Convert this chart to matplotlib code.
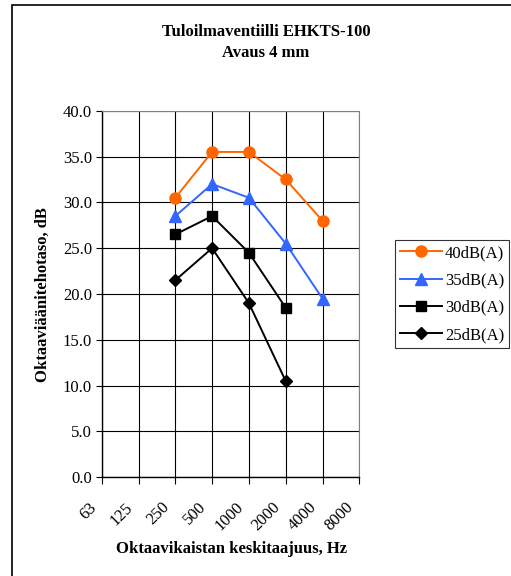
import numpy as np
import matplotlib
matplotlib.use("Agg")
import matplotlib.pyplot as plt
from matplotlib.transforms import ScaledTranslation
from matplotlib.patches import Rectangle

plt.rcParams['font.family'] = ['Liberation Serif', 'DejaVu Serif']
plt.rcParams['font.size'] = 12

freqs = ["63", "125", "250", "500", "1000", "2000", "4000", "8000"]
nan = np.nan
db40 = [nan, nan, 30.5, 35.5, 35.5, 32.5, 28.0, nan]
db35 = [nan, nan, 28.5, 32.0, 30.5, 25.5, 19.5, nan]
db30 = [nan, nan, 26.5, 28.5, 24.5, 18.5, nan, nan]
db25 = [nan, nan, 21.5, 25.0, 19.0, 10.5, nan, nan]
series_names = ["40dB(A)", "35dB(A)", "30dB(A)", "25dB(A)"]

W, H = 511, 576
fig = plt.figure(figsize=(W / 100, H / 100), dpi=100)

# outer chart border (cut off at right/bottom like the original)
fig.patches.append(Rectangle((12 / W, -0.1), 1.2, 1 - 5 / H + 0.1,
                             transform=fig.transFigure, fill=False,
                             edgecolor='black', linewidth=1.2))

left, right, top, bottom = 101.7, 359.3, 110.7, 477.3
ax = fig.add_axes([left / W, 1 - bottom / H, (right - left) / W, (bottom - top) / H])

x = np.arange(len(freqs))
ax.plot(x, db40, color='#FF6600', marker='o', markersize=8, lw=1.4, label=series_names[0])
ax.plot(x, db35, color='#3366FF', marker='^', markersize=8.5, lw=1.4, label=series_names[1])
ax.plot(x, db30, color='black', marker='s', markersize=7.5, lw=1.4, label=series_names[2])
ax.plot(x, db25, color='black', marker='D', markersize=6, lw=1.4, label=series_names[3])

ax.set_xlim(0, 7)
ax.set_ylim(0, 40)
ax.set_yticks(np.arange(0, 41, 5))
ax.set_yticklabels([f"{v:.1f}" for v in np.arange(0, 41, 5)])
ax.set_xticks(x)
ax.set_xticklabels(freqs, rotation=45, ha='right', va='center', rotation_mode='anchor')
ax.grid(True, color='black', lw=0.8)
ax.set_axisbelow(True)

for s in ['top', 'right']:
    ax.spines[s].set_color('#808080')
for s in ['left', 'bottom']:
    ax.spines[s].set_color('black')
    ax.spines[s].set_linewidth(1.0)

ax.tick_params(axis='y', direction='out', length=4, pad=3)
ax.tick_params(axis='x', direction='out', length=5, pad=15)
for lab in ax.get_xticklabels():
    lab.set_transform(lab.get_transform() + ScaledTranslation(-0.08, 0, fig.dpi_scale_trans))

fig.text(266 / W, 1 - 32 / H, "Tuloilmaventiilli EHKTS-100", ha='center', va='center',
         fontweight='bold', fontsize=12)
fig.text(266 / W, 1 - 53 / H, "Avaus 4 mm", ha='center', va='center',
         fontweight='bold', fontsize=12)
fig.text(231 / W, 1 - 549 / H, "Oktaavikaistan keskitaajuus, Hz", ha='center', va='center',
         fontweight='bold', fontsize=12)
fig.text(43 / W, 1 - 295 / H, "Oktaaviäänitehotaso, dB", ha='center', va='center',
         rotation=90, fontweight='bold', fontsize=12)

leg = fig.legend(loc='upper left', bbox_to_anchor=(395 / W, 1 - 240 / H),
                 frameon=True, fancybox=False, edgecolor='black', fontsize=12,
                 handlelength=2.5, handletextpad=0.2, borderpad=0.3, labelspacing=0.68,
                 borderaxespad=0)
leg.get_frame().set_linewidth(0.8)

fig.savefig("out.png", dpi=100)
